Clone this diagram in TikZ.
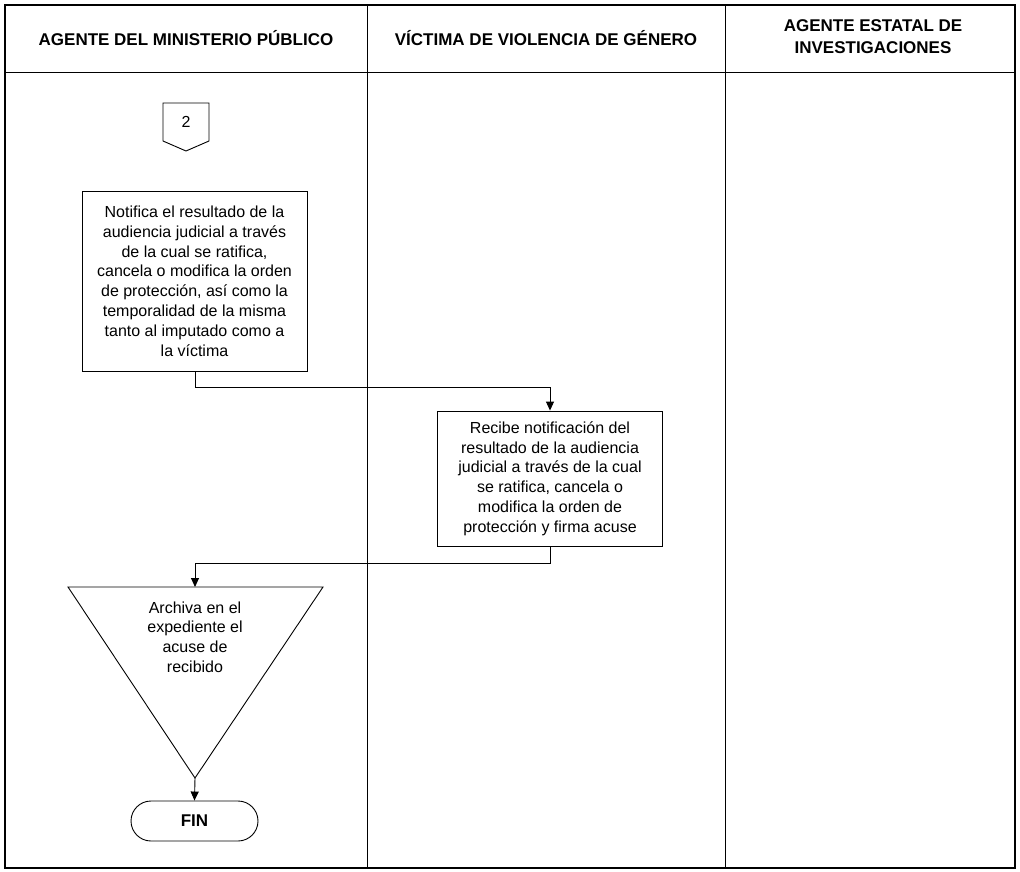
\documentclass[tikz,border=0pt]{standalone}
\usepackage{fontspec}
\setmainfont{Liberation Sans}
\usetikzlibrary{arrows.meta}
\begin{document}
\begin{tikzpicture}[x=1pt,y=-1pt,
  frame/.style={draw=black,line width=1.3pt},
  lane/.style={draw=black,line width=1pt},
  hdr/.style={font=\fontsize{17}{22}\selectfont\bfseries,align=center,inner sep=0pt},
  procbox/.style={draw=black,line width=0.9pt,align=center,font=\fontsize{16}{19.8}\selectfont,inner sep=0pt},
  txt/.style={align=center,font=\fontsize{16}{19.8}\selectfont,inner sep=0pt},
  conn/.style={draw=black,line width=0.9pt},
  arr/.style={conn,-{Triangle[length=9pt,width=8pt]}},
  term/.style={draw=black,line width=0.9pt,rounded corners=20pt,font=\fontsize{17}{18}\selectfont\bfseries,inner sep=0pt}
]
\useasboundingbox (0,0) rectangle (1020,872);
% frame and lanes
\draw[frame] (5,5) rectangle (1015,868);
\draw[lane] (5,73) -- (1015,73);
\draw[lane] (367,5) -- (367,868);
\draw[lane] (725,5) -- (725,868);
\node[hdr] (h1) at (186,38) {AGENTE DEL MINISTERIO PÚBLICO};
\node[hdr] (h2) at (546,38) {VÍCTIMA DE VIOLENCIA DE GÉNERO};
\node[hdr] (h3) at (873,37) {AGENTE ESTATAL DE\\INVESTIGACIONES};
% off-page connector
\coordinate (op1) at (163,103);
\coordinate (op2) at (209,103);
\coordinate (op3) at (209,141);
\coordinate (op4) at (186,151);
\coordinate (op5) at (163,141);
\draw[conn] (op1) -- (op2) -- (op3) -- (op4) -- (op5) -- cycle;
\node[txt] (c2) at (186,122) {2};
% box 1
\node[procbox,minimum width=225pt,minimum height=180pt] (b1) at (194.5,281) {Notifica el resultado de la\\audiencia judicial a través\\de la cual se ratifica,\\cancela o modifica la orden\\de protección, así como la\\temporalidad de la misma\\tanto al imputado como a\\la víctima};
% box 2
\node[procbox,minimum width=225pt,minimum height=135pt] (b2) at (550,478.5) {Recibe notificación del\\resultado de la audiencia\\judicial a través de la cual\\se ratifica, cancela o\\modifica la orden de\\protección y firma acuse};
% triangle (archive)
\coordinate (tl) at (68,587);
\coordinate (tr) at (323,587);
\coordinate (tb) at (195,778);
\coordinate (ttop) at (195,587);
\draw[conn] (tl) -- (tr) -- (tb) -- cycle;
\node[txt] (t1) at (195,637) {Archiva en el\\expediente el\\acuse de\\recibido};
% FIN
\node[term,minimum width=127pt,minimum height=40pt] (fin) at (194.5,821) {FIN};
% connectors
\coordinate (k1) at (195,387);
\coordinate (k2) at (550,387);
\draw[arr] (b1.south -| k1) -- (k1) -- (k2) -- (b2.north);
\coordinate (k3) at (550,563);
\coordinate (k4) at (195,563);
\draw[arr] (b2.south) -- (k3) -- (k4) -- (ttop);
\draw[arr] (tb) -- (fin.north);
\end{tikzpicture}
\end{document}
